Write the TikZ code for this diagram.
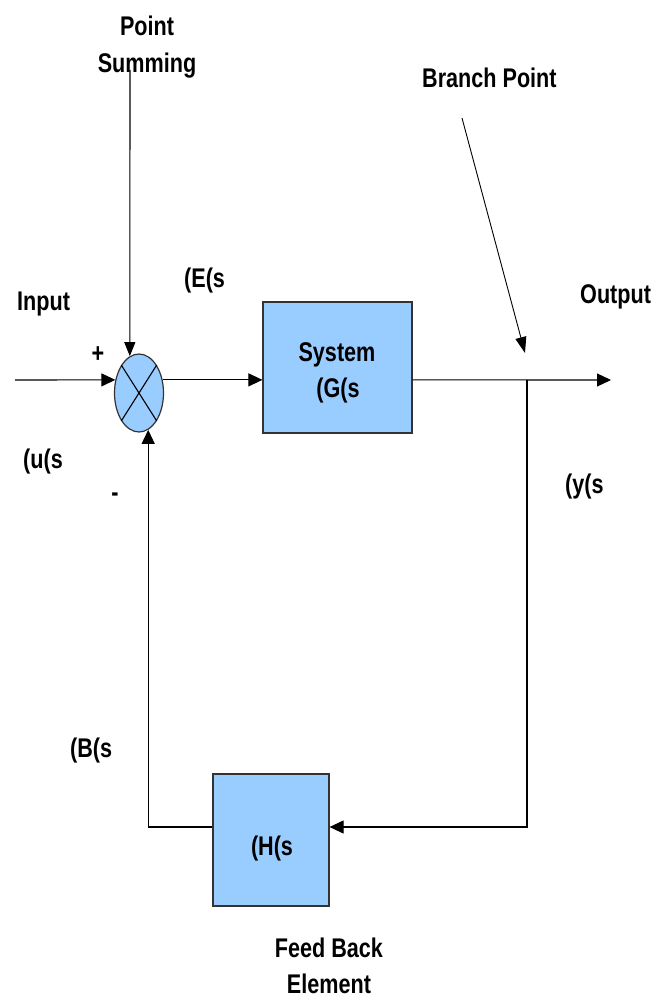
\documentclass[tikz,border=0pt]{standalone}
\usepackage{fontspec}
\setmainfont[FakeStretch=0.8]{Liberation Sans}
\usetikzlibrary{shapes.geometric,arrows.meta}
\definecolor{boxblue}{HTML}{99CCFF}
\definecolor{edge}{HTML}{333333}
\begin{document}
\begin{tikzpicture}[x=1pt,y=-1pt,
  lbl/.style={font=\fontsize{27}{30}\selectfont\bfseries,inner sep=0pt},
  blk/.style={draw=edge,line width=1.2pt,fill=boxblue,inner sep=0pt},
  arr/.style={line width=1.1pt,-{Triangle[length=14pt,width=13pt]}},
  ln/.style={line width=1.1pt}]
\useasboundingbox (0,0) rectangle (653,1000);
% blocks
\node[blk,ellipse,minimum width=49pt,minimum height=78pt] (sum) at (139,393) {};
\draw[ln] (sum.north west) -- (sum.south east);
\draw[ln] (sum.north east) -- (sum.south west);
\node[blk,minimum width=149pt,minimum height=131pt] (sys) at (337.5,367.5) {};
\node[blk,minimum width=116pt,minimum height=132pt] (fb) at (271,840) {};
% coordinates
\coordinate (inp) at (15,380);
\coordinate (outp) at (611,380);
\coordinate (br) at (527,380);
\coordinate (brd) at (527,827);
\coordinate (sp) at (130,70);
\coordinate (bp) at (462,118);
\coordinate (bpt) at (525,353);
% connectors
\draw[arr] (inp) -- (sum.151);
\draw[arr] (sum.29) -- (sum.29 -| sys.west);
\draw[arr] (sum.29 -| sys.east) -- (outp);
\draw[arr] (br) -- (brd) -- (brd -| fb.east);
\draw[arr] (brd -| fb.west) -| (sum.-76);
\draw[ln,-{Triangle[length=14pt,width=11pt]}] (sp) -- (sum.104);
\draw[line width=0.9pt,-{Triangle[length=16pt,width=11pt]}] (bp) -- (bpt);
% labels
\node[lbl,anchor=base] (t1) at (147,36) {Point};
\node[lbl,anchor=base] (t2) at (147,73) {Summing};
\node[lbl,anchor=base west] (t3) at (422,88) {Branch Point};
\node[lbl,anchor=base west] (t4) at (184,287) {(E(s};
\node[lbl,anchor=base west] (t5) at (17,310) {Input};
\node[lbl,anchor=base west] (t6) at (580,303) {Output};
\node[lbl,anchor=base west] (t7) at (23,468) {(u(s};
\node[lbl,anchor=base west] (t8) at (565,493) {(y(s};
\node[lbl,anchor=base west] (t9) at (70,757) {(B(s};
\node[lbl,anchor=center] (t10) at (98,355) {+};
\node[lbl,anchor=center] (t11) at (115,497) {-};
\node[lbl,anchor=base] (t12) at (337,361) {System};
\node[lbl,anchor=base] (t13) at (338,397) {(G(s};
\node[lbl,anchor=base] (t14) at (272,855) {(H(s};
\node[lbl,anchor=base] (t15) at (329,957) {Feed Back};
\node[lbl,anchor=base] (t16) at (329,993) {Element};
\end{tikzpicture}
\end{document}
